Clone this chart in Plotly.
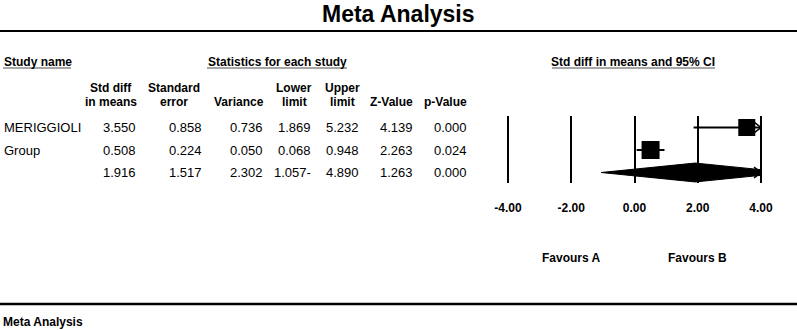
import plotly.graph_objects as go

# ---------------- data ----------------
study_names = ["MERIGGIOLI", "Group", ""]
std_diff = [3.550, 0.508, 1.916]
std_err = [0.858, 0.224, 1.517]
variance = [0.736, 0.050, 2.302]
lower = [1.869, 0.068, -1.057]
upper = [5.232, 0.948, 4.890]
z_value = [4.139, 2.263, 1.263]
p_value = [0.000, 0.024, 0.000]
is_summary = [False, False, True]

col_headers = ["Std diff<br>in means", "Standard<br>error", "Variance",
               "Lower<br>limit", "Upper<br>limit", "Z-Value", "p-Value"]
axis_ticks = [-4, -2, 0, 2, 4]
favours = ["Favours A", "Favours B"]
title_text = "Meta Analysis"

# ---------------- layout constants (pixels) ----------------
W, H = 797, 330
FONT = "Liberation Sans, Arial, sans-serif"
ROW0, ROW_STEP = 127.5, 22.5
PLOT_TOP, PLOT_BOT = 116, 183
X0_PX, PX_PER_UNIT = 634.5, 31.625
XDOM = (480, 797)
val_right = [137, 203, 264, 312, 360, 414, 468]
hdr_center = [111, 174, 238.5, 294, 342, 391, 445.5]


def px(x):
    return x / W


def py(y):
    return 1 - y / H


def fmt(v):
    return f"{abs(v):.3f}-" if v < 0 else f"{v:.3f}"


fig = go.Figure()
xmin, xmax = axis_ticks[0], axis_ticks[-1]

# CI lines, arrows, squares and the summary diamond
for i in range(len(std_diff)):
    lo_c = max(lower[i], xmin)
    hi_c = min(upper[i], xmax)
    if not is_summary[i]:
        fig.add_trace(go.Scatter(x=[lo_c, hi_c], y=[i, i], mode="lines",
                                 line=dict(color="black", width=2),
                                 hoverinfo="skip", showlegend=False))
        fig.add_trace(go.Scatter(x=[std_diff[i]], y=[i], mode="markers",
                                 marker=dict(symbol="square", color="black",
                                             size=17 if i == 0 else 18),
                                 hoverinfo="skip", showlegend=False))
    else:
        h = 0.42
        f = (upper[i] - hi_c) / (upper[i] - std_diff[i])
        xs = [lower[i], std_diff[i], hi_c, hi_c, std_diff[i], lower[i]]
        ys = [i, i - h, i - h * f, i + h * f, i + h, i]
        fig.add_trace(go.Scatter(x=xs, y=ys, mode="lines", fill="toself",
                                 fillcolor="black", line=dict(color="black", width=1),
                                 hoverinfo="skip", showlegend=False))
    if upper[i] > xmax:
        dx, dy = 0.22, 0.24
        fig.add_trace(go.Scatter(x=[hi_c - dx, hi_c, hi_c - dx], y=[i - dy, i, i + dy],
                                 mode="lines", line=dict(color="black", width=1.5),
                                 hoverinfo="skip", showlegend=False))

xr = [(XDOM[0] - X0_PX) / PX_PER_UNIT, (XDOM[1] - X0_PX) / PX_PER_UNIT]
yr = [(PLOT_BOT - ROW0) / ROW_STEP, (PLOT_TOP - ROW0) / ROW_STEP]

fig.update_layout(
    width=W, height=H,
    margin=dict(l=0, r=0, t=0, b=0),
    paper_bgcolor="white", plot_bgcolor="white",
    showlegend=False,
    font=dict(family=FONT, color="black"),
    xaxis=dict(domain=[px(XDOM[0]), px(XDOM[1])], range=xr,
               tickvals=axis_ticks, ticktext=[f"{t:.2f}" for t in axis_ticks],
               tickfont=dict(size=12, family=FONT, color="black", weight="bold"),
               showgrid=True, gridcolor="black", gridwidth=2, zeroline=False,
               showline=False, ticks="", ticklabelstandoff=16, fixedrange=True),
    yaxis=dict(domain=[py(PLOT_BOT), py(PLOT_TOP)], range=yr,
               showgrid=False, zeroline=False, showticklabels=False,
               showline=False, fixedrange=True),
)

ann = []


def text(x, y, s, size=13, bold=False, anchor="left", xref="paper"):
    ann.append(dict(x=x, y=py(y), xref=xref, yref="paper", text=s, showarrow=False,
                    xanchor=anchor, yanchor="middle",
                    font=dict(size=size, family=FONT, color="black",
                              weight="bold" if bold else "normal")))


# Title
text(px(398), 14, title_text, size=23, bold=True, anchor="center")
# Section headers
text(px(2), 62, "Study name", size=12, bold=True)
text(px(277), 62, "Statistics for each study", size=12, bold=True, anchor="center")
text(px(633), 62, "Std diff in means and 95% CI", size=12, bold=True, anchor="center")

# Column headers
for c, hdr in enumerate(col_headers):
    lines = hdr.split("<br>")
    for k, ln in enumerate(reversed(lines)):
        text(px(hdr_center[c]), 101.5 - 14 * k, ln, size=12, bold=True, anchor="center")

# Rows
cols = [std_diff, std_err, variance, lower, upper, z_value, p_value]
for i in range(len(std_diff)):
    y = ROW0 + ROW_STEP * i
    if study_names[i]:
        text(px(2), y, study_names[i], size=13)
    for c, col in enumerate(cols):
        text(px(val_right[c] + 1), y, fmt(col[i]), size=13, anchor="right")

# Favours labels
text(-2, 258, favours[0], size=12, bold=True, anchor="center", xref="x")
text(2, 258, favours[1], size=12, bold=True, anchor="center", xref="x")

# Footer
text(px(1), 322, title_text, size=12, bold=True)

fig.update_layout(annotations=ann)

# Rules and underlines
shapes = [
    dict(type="line", xref="paper", yref="paper", x0=0, x1=1, y0=py(31), y1=py(31),
         line=dict(color="black", width=2)),
    dict(type="line", xref="paper", yref="paper", x0=0, x1=1, y0=py(304), y1=py(304),
         line=dict(color="black", width=2.5)),
]
for (a, b) in [(3, 71), (207, 347), (552, 715)]:
    shapes.append(dict(type="line", xref="paper", yref="paper", x0=px(a), x1=px(b),
                       y0=py(68), y1=py(68), line=dict(color="#8a8a8a", width=1.5)))
fig.update_layout(shapes=shapes)

fig.write_html("out.html", config={"displayModeBar": False},
               post_script="document.body.style.margin='0';document.body.style.overflow='hidden';")
